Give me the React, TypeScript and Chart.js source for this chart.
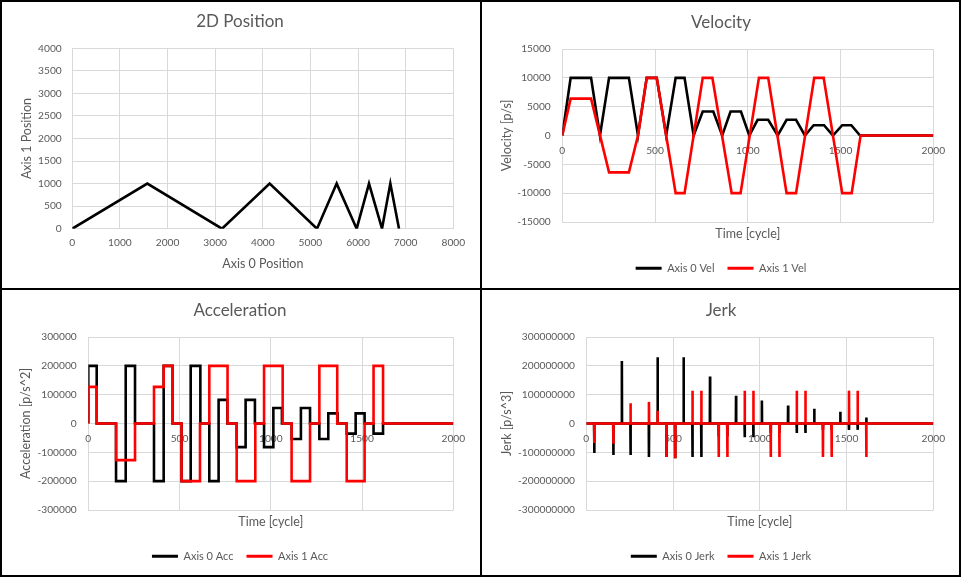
import React, { useEffect, useRef } from "react";
import { Chart, registerables } from "chart.js";

Chart.register(...registerables);

const FONT_FAMILY = "Lato, 'Open Sans', 'DejaVu Sans', sans-serif";
const TEXT_COLOR = "#595959";
const GRID_COLOR = "#d9d9d9";
const AXIS0_COLOR = "#000000";
const AXIS1_COLOR = "#ff0000";

// ---------- 2D Position ----------
const posAxis0 = [0, 1575, 3143, 4144, 5138, 5551, 5971, 6230, 6503, 6678, 6860];
const posAxis1 = [0, 1000, 0, 1000, 0, 1000, 0, 1000, 0, 1000, 0];
const posXTicks = [0, 1000, 2000, 3000, 4000, 5000, 6000, 7000, 8000];
const posYTicks = [0, 500, 1000, 1500, 2000, 2500, 3000, 3500, 4000];

// ---------- Time axis ----------
const timeTicks = [0, 500, 1000, 1500, 2000];

// ---------- Velocity (breakpoints) ----------
const velTime0 = [0, 45, 155, 203, 252, 359, 408, 455, 509, 560, 611, 659, 708, 757, 814, 862, 907, 963, 1008, 1053, 1110, 1161, 1209, 1260, 1308, 1355, 1411, 1459, 1509, 1558, 1605, 2000];
const vel0 = [0, 10000, 10000, 0, 10000, 10000, 0, 10000, 10000, 0, 10000, 10000, 0, 4160, 4160, 0, 4160, 4160, 0, 2720, 2720, 0, 2720, 2720, 0, 1790, 1790, 0, 1790, 1790, 0, 0];
const velTime1 = [0, 45, 155, 252, 359, 408, 455, 509, 611, 659, 757, 809, 913, 961, 1060, 1110, 1209, 1260, 1358, 1409, 1509, 1560, 1608, 2000];
const vel1 = [0, 6400, 6400, -6400, -6400, 0, 10000, 10000, -10000, -10000, 10000, 10000, -10000, -10000, 10000, 10000, -10000, -10000, 10000, 10000, -10000, -10000, 0, 0];
const velTicks = [-15000, -10000, -5000, 0, 5000, 10000, 15000];

// ---------- Acceleration (step start times and levels) ----------
const accTime0 = [0, 0, 46, 152, 205, 256, 360, 413, 462, 511, 561, 614, 663, 714, 762, 813, 862, 913, 963, 1014, 1061, 1114, 1165, 1215, 1266, 1315, 1366, 1416, 1465, 1514, 1563, 1615, 2000];
const acc0 = [0, 200000, 0, -200000, 200000, 0, -200000, 200000, 0, -200000, 200000, 0, -200000, 82000, 0, -82000, 82000, 0, -82000, 54000, 0, -54000, 54000, 0, -54000, 35000, 0, -35000, 35000, 0, -35000, 0, 0];
const accTime1 = [0, 0, 46, 152, 256, 360, 413, 462, 511, 612, 663, 763, 813, 915, 963, 1065, 1114, 1215, 1266, 1364, 1416, 1514, 1563, 1615, 2000];
const acc1 = [0, 127000, 0, -127000, 0, 127000, 200000, 0, -200000, 0, 200000, 0, -200000, 0, 200000, 0, -200000, 0, 200000, 0, -200000, 0, 200000, 0, 0];
const accTicks = [-300000, -200000, -100000, 0, 100000, 200000, 300000];

// ---------- Jerk (spike times and peaks) ----------
const jerkTime0 = [46, 156, 205, 255, 361, 411, 462, 512, 561, 612, 663, 713, 763, 813, 863, 913, 963, 1012, 1063, 1113, 1163, 1213, 1263, 1314, 1364, 1414, 1464, 1514, 1564, 1614];
const jerk0 = [-102e6, -109e6, 217e6, -109e6, -116e6, 230e6, -116e6, -116e6, 230e6, -116e6, -116e6, 163e6, -45e6, -45e6, 96e6, -48e6, -48e6, 80e6, -33e6, -33e6, 62e6, -33e6, -33e6, 51e6, -22e6, -22e6, 41e6, -22e6, -22e6, 21e6];
const jerkTime1 = [46, 156, 255, 361, 411, 462, 512, 612, 663, 763, 813, 913, 963, 1063, 1113, 1213, 1263, 1364, 1414, 1514, 1564, 1614];
const jerk1 = [-68e6, -70e6, 70e6, 75e6, 44e6, -116e6, -116e6, 114e6, 114e6, -116e6, -116e6, 114e6, 114e6, -116e6, -116e6, 114e6, 114e6, -116e6, -116e6, 114e6, 114e6, -116e6];
const jerkTicks = [-300000000, -200000000, -100000000, 0, 100000000, 200000000, 300000000];

// ---------- helpers ----------
const W = 480;
const H = 288;
const TITLE_SIZE = 17;
const AXIS_SIZE = 12.5;
const TICK_SIZE = 10.2;
const LEGEND_SIZE = 11;
const LEGEND_PAD = 13;
const LINE_W = 2.6;

const pts = (xs: number[], ys: number[]) => xs.map((x, i) => ({ x, y: ys[i] }));
const spikes = (ts: number[], vs: number[], end: number) => {
  const out: { x: number; y: number }[] = [{ x: 0, y: 0 }];
  ts.forEach((t, i) => {
    out.push({ x: t - 1, y: 0 }, { x: t, y: vs[i] }, { x: t + 1, y: 0 });
  });
  out.push({ x: end, y: 0 });
  return out;
};

const line = (label: string, data: any[], color: string, order: number, extra: any = {}) => ({
  label,
  data,
  borderColor: color,
  backgroundColor: color,
  borderWidth: LINE_W,
  pointRadius: 0,
  pointHoverRadius: 0,
  showLine: true,
  order,
  ...extra,
});

type Panel = {
  title: string;
  xTitle: string;
  yTitle: string;
  xTicks: number[];
  yTicks: number[];
  xAtZero: boolean;
  area: { l: number; t: number; r: number; b: number };
  titleY: number;
  yTitleX: number;
  xTitleY: number;
  legendY?: number;
  yTickGap: number;
  xTickGap: number;
  datasets: any[];
};

function buildConfig(p: Panel): any {
  const titleLH = TITLE_SIZE * 1.2;
  const axisLH = AXIS_SIZE * 1.2;
  const hasLegend = p.legendY !== undefined;
  const pb = hasLegend ? H - 10 - LEGEND_SIZE / 2 - (p.legendY as number) : 0;
  const legendTop = hasLegend ? H - pb - (LEGEND_SIZE + LEGEND_PAD + 10) : H;
  const bottomH = legendTop - p.area.b;
  const xTitlePadBottom = legendTop - axisLH / 2 - p.xTitleY;
  const tickFont = { family: FONT_FAMILY, size: TICK_SIZE };
  const axisFont = { family: FONT_FAMILY, size: AXIS_SIZE };
  const fixTicks = (vals: number[]) => (scale: any) => {
    scale.ticks = vals.map((v) => ({ value: v }));
  };
  const fmt = (v: any) => String(v);
  const xTitleCfg = {
    display: true,
    text: p.xTitle,
    color: TEXT_COLOR,
    font: axisFont,
    padding: { top: 0, bottom: xTitlePadBottom },
  };

  const scales: any = {
    y: {
      type: "linear",
      axis: "y",
      position: "left",
      min: p.yTicks[0],
      max: p.yTicks[p.yTicks.length - 1],
      afterBuildTicks: fixTicks(p.yTicks),
      afterFit: (s: any) => {
        s.width = p.area.l;
      },
      grid: { color: GRID_COLOR, lineWidth: 1, drawTicks: false },
      border: { display: true, color: GRID_COLOR, width: 1 },
      ticks: { color: TEXT_COLOR, font: tickFont, padding: p.yTickGap, callback: fmt },
      title: {
        display: true,
        text: p.yTitle,
        color: TEXT_COLOR,
        font: axisFont,
        padding: { top: p.yTitleX - axisLH / 2, bottom: 0 },
      },
    },
    y2: {
      type: "linear",
      axis: "y",
      position: "right",
      afterFit: (s: any) => {
        s.width = W - p.area.r;
      },
      grid: { display: false, drawTicks: false },
      border: { display: false },
      ticks: { display: false },
    },
    x: {
      type: "linear",
      axis: "x",
      position: p.xAtZero ? { y: 0 } : "bottom",
      min: p.xTicks[0],
      max: p.xTicks[p.xTicks.length - 1],
      afterBuildTicks: fixTicks(p.xTicks),
      grid: { color: GRID_COLOR, lineWidth: 1, drawTicks: false },
      border: { display: true, color: GRID_COLOR, width: 1 },
      ticks: {
        color: TEXT_COLOR,
        font: tickFont,
        padding: p.xTickGap,
        callback: fmt,
        maxRotation: 0,
        autoSkip: false,
      },
      title: p.xAtZero ? { display: false } : xTitleCfg,
    },
  };
  if (p.xAtZero) {
    scales.x2 = {
      type: "linear",
      axis: "x",
      position: "bottom",
      afterFit: (s: any) => {
        s.height = bottomH;
      },
      grid: { display: false, drawTicks: false },
      border: { display: false },
      ticks: { display: false },
      title: xTitleCfg,
    };
  } else {
    scales.x.afterFit = (s: any) => {
      s.height = bottomH;
    };
  }

  const baseGen = (Chart.defaults as any).plugins.legend.labels.generateLabels;

  return {
    type: "scatter",
    data: { datasets: p.datasets },
    options: {
      responsive: false,
      maintainAspectRatio: false,
      animation: false,
      events: [],
      layout: { padding: { left: 0, right: 0, top: 0, bottom: pb } },
      scales,
      plugins: {
        title: {
          display: true,
          text: p.title,
          color: TEXT_COLOR,
          font: { family: FONT_FAMILY, size: TITLE_SIZE, weight: "normal" },
          padding: {
            top: p.titleY - titleLH / 2,
            bottom: p.area.t - p.titleY - titleLH / 2,
          },
        },
        legend: {
          display: hasLegend,
          position: "bottom",
          labels: {
            boxWidth: 26,
            boxHeight: 3,
            padding: LEGEND_PAD,
            color: TEXT_COLOR,
            font: { family: FONT_FAMILY, size: LEGEND_SIZE },
            sort: (a: any, b: any) => a.datasetIndex - b.datasetIndex,
            generateLabels: (chart: any) =>
              baseGen(chart).map((l: any) => ({ ...l, fillStyle: l.strokeStyle, lineWidth: 0 })),
          },
        },
        tooltip: { enabled: false },
      },
    },
  };
}

const panels: { left: number; top: number; spec: Panel }[] = [
  {
    left: 0,
    top: 0,
    spec: {
      title: "2D Position",
      xTitle: "Axis 0 Position",
      yTitle: "Axis 1 Position",
      xTicks: posXTicks,
      yTicks: posYTicks,
      xAtZero: false,
      area: { l: 72.3, t: 48.3, r: 453.3, b: 228.7 },
      titleY: 21.5,
      yTitleX: 27,
      xTitleY: 264,
      yTickGap: 10.6,
      xTickGap: 8,
      datasets: [line("2D Position", pts(posAxis0, posAxis1), AXIS0_COLOR, 1)],
    },
  },
  {
    left: 481,
    top: 0,
    spec: {
      title: "Velocity",
      xTitle: "Time [cycle]",
      yTitle: "Velocity [p/s]",
      xTicks: timeTicks,
      yTicks: velTicks,
      xAtZero: true,
      area: { l: 81.3, t: 49, r: 452.3, b: 222 },
      titleY: 22.3,
      yTitleX: 25.7,
      xTitleY: 234,
      legendY: 268.3,
      yTickGap: 11.6,
      xTickGap: 9.4,
      datasets: [
        line("Axis 0 Vel", pts(velTime0, vel0), AXIS0_COLOR, 2),
        line("Axis 1 Vel", pts(velTime1, vel1), AXIS1_COLOR, 1),
      ],
    },
  },
  {
    left: 0,
    top: 289,
    spec: {
      title: "Acceleration",
      xTitle: "Time [cycle]",
      yTitle: "Acceleration [p/s^2]",
      xTicks: timeTicks,
      yTicks: accTicks,
      xAtZero: true,
      area: { l: 88.3, t: 48, r: 453.3, b: 221 },
      titleY: 21.3,
      yTitleX: 26,
      xTitleY: 233,
      legendY: 267.3,
      yTickGap: 11.6,
      xTickGap: 9.4,
      datasets: [
        line("Axis 0 Acc", pts(accTime0, acc0), AXIS0_COLOR, 2, { stepped: true }),
        line("Axis 1 Acc", pts(accTime1, acc1), AXIS1_COLOR, 1, { stepped: true }),
      ],
    },
  },
  {
    left: 481,
    top: 289,
    spec: {
      title: "Jerk",
      xTitle: "Time [cycle]",
      yTitle: "Jerk [p/s^3]",
      xTicks: timeTicks,
      yTicks: jerkTicks,
      xAtZero: true,
      area: { l: 105.3, t: 48, r: 452.3, b: 221 },
      titleY: 21.3,
      yTitleX: 25.7,
      xTitleY: 233,
      legendY: 267.3,
      yTickGap: 11.3,
      xTickGap: 9.4,
      datasets: [
        line("Axis 0 Jerk", spikes(jerkTime0, jerk0, 2000), AXIS0_COLOR, 2),
        line("Axis 1 Jerk", spikes(jerkTime1, jerk1, 2000), AXIS1_COLOR, 1),
      ],
    },
  },
];

function ChartPanel({ spec, left, top }: { spec: Panel; left: number; top: number }) {
  const ref = useRef<HTMLCanvasElement>(null);
  useEffect(() => {
    if (!ref.current) return;
    const chart = new Chart(ref.current, buildConfig(spec));
    return () => chart.destroy();
  }, [spec]);
  return (
    <canvas
      ref={ref}
      width={W}
      height={H}
      style={{ position: "absolute", left, top, width: W, height: H }}
    />
  );
}

const frameLines = [
  { left: 0, top: 0, width: 961, height: 2 },
  { left: 0, top: 575, width: 961, height: 2 },
  { left: 0, top: 0, width: 2, height: 577 },
  { left: 959, top: 0, width: 2, height: 577 },
  { left: 480, top: 0, width: 2, height: 577 },
  { left: 0, top: 288, width: 961, height: 2 },
];

export default function App() {
  return (
    <div
      style={{
        position: "absolute",
        left: 0,
        top: 0,
        width: 961,
        height: 577,
        background: "#ffffff",
        overflow: "hidden",
      }}
    >
      {panels.map((p, i) => (
        <ChartPanel key={i} spec={p.spec} left={p.left} top={p.top} />
      ))}
      {frameLines.map((f, i) => (
        <div
          key={"f" + i}
          style={{ position: "absolute", background: "#000000", ...f }}
        />
      ))}
    </div>
  );
}
